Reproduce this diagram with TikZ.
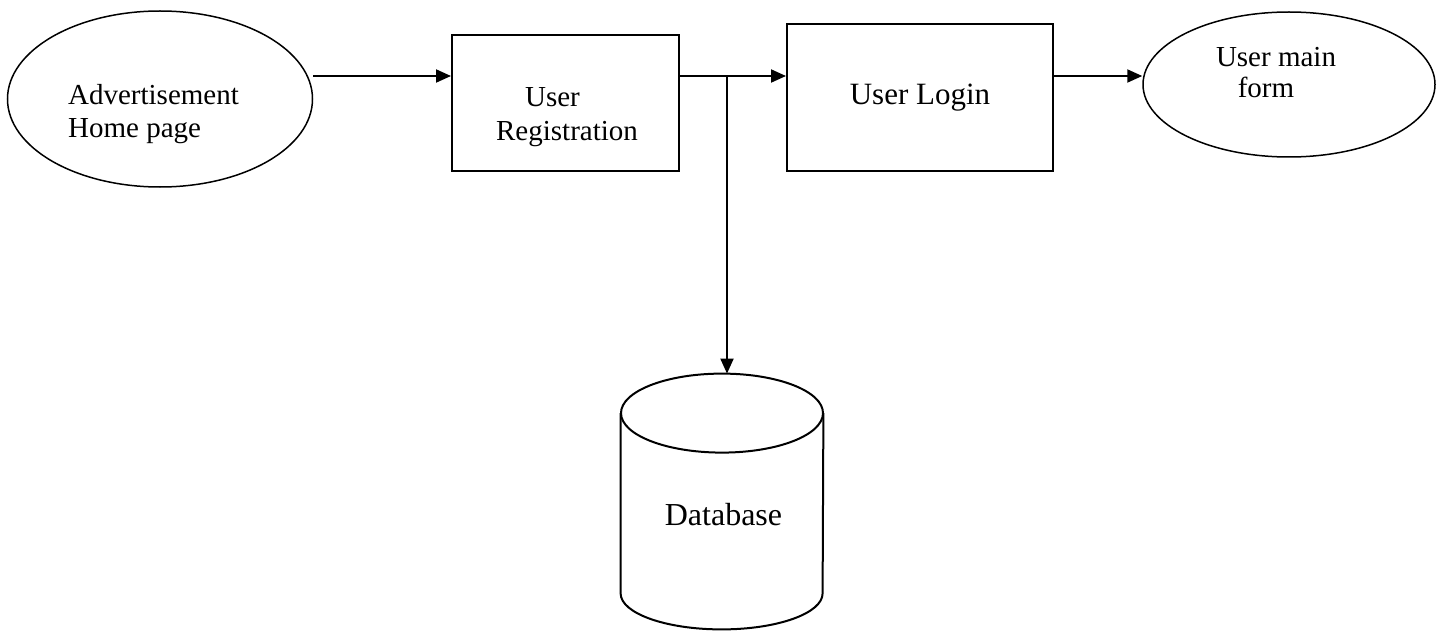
\documentclass[tikz,border=0pt]{standalone}
\usepackage{fontspec}
\setmainfont{Liberation Serif}
\usetikzlibrary{shapes.geometric,arrows.meta}

\begin{document}
\begin{tikzpicture}[
  x=0.5pt,
  y=-0.5pt,
  myell/.style={
    draw,
    line width=0.75pt,
    ellipse,
    inner sep=0pt
    },
  mybox/.style={
    draw,
    line width=1pt,
    rectangle,
    inner sep=0pt
    },
  mydb/.style={
    line width=1pt
    },
  mytext/.style={
    align=left,
    inner sep=0pt,
    font=\fontsize{14.5pt}{16.5pt}\selectfont
    },
  myflow/.style={
    line width=1pt,
    -{Triangle[length=7.5pt,width=6.5pt]}
    }
]
\useasboundingbox (0,0) rectangle (1446,631);

\node[myell, minimum width=152.5pt, minimum height=88pt] (adv) at (160,99) {};
\node[mytext] (advtext) at ([shift={(-6.5,15.5)}]adv.center) {Advertisement\\Home page};

\node[mybox, minimum width=113.5pt, minimum height=68pt] (reg) at (565.5,103) {};
\node[mytext, font=\fontsize{14.5pt}{17pt}\selectfont] (regtext) at ([shift={(1.5,14)}]reg.center) {\hspace*{1em}User\\Registration};

\node[mybox, minimum width=133pt, minimum height=73.5pt, font=\fontsize{15.5pt}{18pt}\selectfont] (login) at (920,97.5) {User Login};

\node[myell, minimum width=146pt, minimum height=72.5pt] (usermain) at (1289,84.5) {};
\node[mytext, font=\fontsize{14.5pt}{15.5pt}\selectfont] (usermaintext) at ([shift={(-13,-12)}]usermain.center) {User main\\\hspace*{0.75em}form};

% database cylinder, drawn round an empty frame node
\node[inner sep=0pt, minimum width=101pt, minimum height=127.5pt] (db) at (722,501.5) {};
\draw[mydb] ([yshift=-19.75pt]db.north west) -- ([yshift=18pt]db.south west)
  arc[start angle=180, end angle=360, x radius=50.5pt, y radius=18pt]
  -- ([yshift=-19.75pt]db.north east);
\draw[mydb] ([yshift=-19.75pt]db.north) ellipse [x radius=50.5pt, y radius=19.75pt];
\node[mytext, font=\fontsize{16pt}{18pt}\selectfont] (dbtext) at ([shift={(1.5,13.5)}]db.center) {Database};

\coordinate (flow) at (0,76);
\coordinate (tap) at (727,76);

\draw[myflow] (adv.east |- flow) -- (reg.west |- flow);
\draw[line width=1pt] (reg.east |- flow) -- (tap);
\draw[myflow] (tap) -- (login.west |- flow);
\draw[myflow] (login.east |- flow) -- (usermain.west |- flow);
\draw[myflow] (tap) -- (tap |- db.north);

\end{tikzpicture}
\end{document}
